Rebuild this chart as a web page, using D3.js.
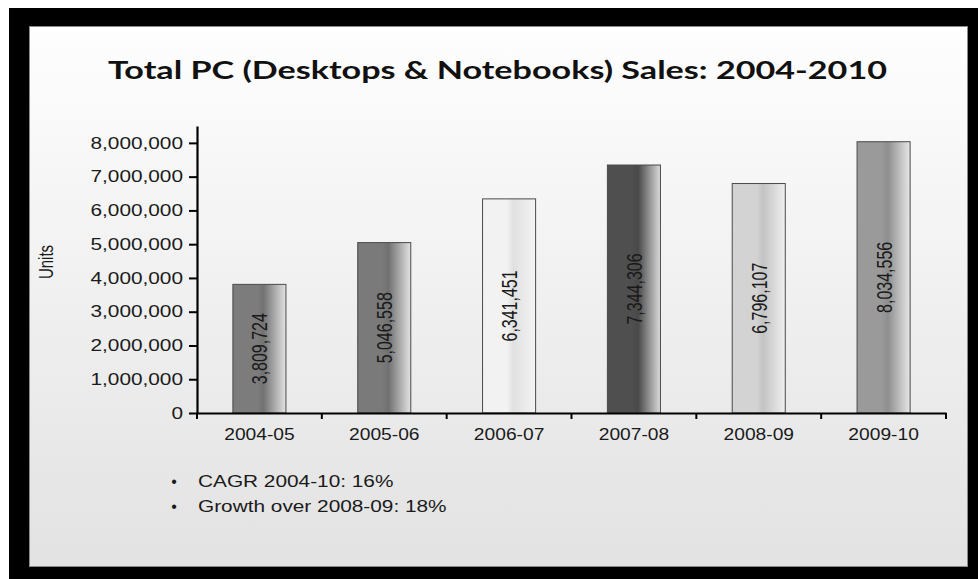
<!DOCTYPE html>
<html>
<head>
<meta charset="utf-8">
<script src="https://cdn.jsdelivr.net/npm/d3@7"></script>
<style>
  body { margin: 0; background: #fff; }
  svg { display: block; }
</style>
</head>
<body>
<svg id="chart"></svg>
<script>
const categories = ["2004-05", "2005-06", "2006-07", "2007-08", "2008-09", "2009-10"];
const units = [3809724, 5046558, 6341451, 7344306, 6796107, 8034556];
const yTicks = [0, 1000000, 2000000, 3000000, 4000000, 5000000, 6000000, 7000000, 8000000];
const notes = ["CAGR 2004-10: 16%", "Growth over 2008-09: 18%"];
const title = "Total PC (Desktops & Notebooks) Sales: 2004-2010";

// per-bar base tone (left part of each bar's gradient)
const barColors = ["#7c7c7c", "#7a7a7a", "#f2f2f2", "#4f4f4f", "#d3d3d3", "#9a9a9a"];

const width = 978;
const height = 579;
const sx = 1.3; // the source picture is stretched horizontally

const svg = d3.select("#chart").attr("width", width).attr("height", height);
const defs = svg.append("defs");

// stretch a text node horizontally by factor k
function stretch(sel, k) {
  sel.each(function () {
    const w = this.getComputedTextLength();
    d3.select(this).attr("textLength", w * k).attr("lengthAdjust", "spacingAndGlyphs");
  });
}

// frame + panel
svg.append("rect").attr("x", 9).attr("y", 8).attr("width", width - 9).attr("height", height - 8).attr("fill", "#000");

const bg = defs.append("linearGradient").attr("id", "bg").attr("x1", 0).attr("y1", 0).attr("x2", 0).attr("y2", 1);
bg.append("stop").attr("offset", 0).attr("stop-color", "#fefefe");
bg.append("stop").attr("offset", 1).attr("stop-color", "#e2e2e2");

svg.append("rect")
  .attr("x", 29.5).attr("y", 26.5)
  .attr("width", 938).attr("height", 540)
  .attr("fill", "url(#bg)")
  .attr("stroke", "#8a8a8a");

// title
svg.append("text")
  .attr("x", 497.5)
  .attr("y", 79)
  .attr("text-anchor", "middle")
  .attr("font-family", "Lato, 'Open Sans', sans-serif")
  .attr("font-weight", 700)
  .attr("font-size", "24px")
  .attr("fill", "#111")
  .attr("textLength", 779)
  .attr("lengthAdjust", "spacingAndGlyphs")
  .text(title);

// scales
const x = d3.scaleBand()
  .domain(categories)
  .range([197, 946])
  .paddingInner(0.575)
  .paddingOuter(0.2875);

const y = d3.scaleLinear()
  .domain([0, 8500000])
  .range([413, 126]);

// bar gradients
barColors.forEach((c, i) => {
  const base = d3.color(c);
  const g = defs.append("linearGradient").attr("id", "bar" + i)
    .attr("x1", 0).attr("y1", 0).attr("x2", 1).attr("y2", 0);
  g.append("stop").attr("offset", 0).attr("stop-color", base);
  g.append("stop").attr("offset", 0.46).attr("stop-color", base);
  g.append("stop").attr("offset", 0.58).attr("stop-color", base.darker(0.22));
  g.append("stop").attr("offset", 1).attr("stop-color", d3.interpolateRgb(base, "#f4f4f4")(0.85));
});

const bars = svg.append("g")
  .selectAll("g")
  .data(units)
  .join("g");

bars.append("rect")
  .attr("x", (d, i) => x(categories[i]))
  .attr("y", d => y(d))
  .attr("width", x.bandwidth())
  .attr("height", d => y(0) - y(d))
  .attr("fill", (d, i) => `url(#bar${i})`)
  .attr("stroke", "#4a4a4a")
  .attr("stroke-width", 1);

bars.append("text")
  .attr("transform", (d, i) => {
    const cx = x(categories[i]) + x.bandwidth() / 2;
    const cy = (y(d) + y(0)) / 2;
    return `translate(${cx},${cy}) scale(1.4,1) rotate(-90)`;
  })
  .attr("text-anchor", "middle")
  .attr("dominant-baseline", "central")
  .attr("font-family", "Arial, 'Liberation Sans', sans-serif")
  .attr("font-size", "16px")
  .attr("fill", "#1a1a1a")
  .text(d => d3.format(",")(d));

// y axis
const yAxis = svg.append("g")
  .attr("transform", "translate(197,0)")
  .call(d3.axisLeft(y).tickValues(yTicks).tickFormat(d3.format(",")).tickSize(8).tickPadding(6).tickSizeOuter(0));

yAxis.select(".domain").attr("stroke", "#000").attr("stroke-width", 2.2);
yAxis.selectAll(".tick line").attr("stroke", "#000").attr("stroke-width", 2);
yAxis.selectAll("text")
  .attr("font-family", "Arial, 'Liberation Sans', sans-serif")
  .attr("font-size", "16px")
  .attr("fill", "#1a1a1a")
  .call(stretch, sx);

// x axis
const xAxis = svg.append("g")
  .attr("transform", `translate(0,${y(0)})`)
  .call(d3.axisBottom(x).tickSize(0).tickSizeOuter(0));

xAxis.select(".domain").attr("stroke", "#000").attr("stroke-width", 2.2);
xAxis.selectAll("text")
  .attr("y", 27)
  .attr("dy", null)
  .attr("font-family", "Arial, 'Liberation Sans', sans-serif")
  .attr("font-size", "16px")
  .attr("fill", "#1a1a1a")
  .call(stretch, 1.2);

// category boundary ticks
xAxis.selectAll(".bound")
  .data(d3.range(categories.length + 1))
  .join("line")
  .attr("class", "bound")
  .attr("x1", i => x.range()[0] + i * x.step())
  .attr("x2", i => x.range()[0] + i * x.step())
  .attr("y1", 0)
  .attr("y2", 6)
  .attr("stroke", "#000")
  .attr("stroke-width", 2);

// y axis title
svg.append("text")
  .attr("transform", `translate(46,262) scale(${sx},1) rotate(-90)`)
  .attr("text-anchor", "middle")
  .attr("dominant-baseline", "central")
  .attr("font-family", "Arial, 'Liberation Sans', sans-serif")
  .attr("font-size", "15px")
  .attr("fill", "#1a1a1a")
  .text("Units");

// notes
const noteG = svg.append("g")
  .selectAll("g")
  .data(notes)
  .join("g")
  .attr("transform", (d, i) => `translate(0,${487 + i * 25})`);

noteG.append("text")
  .attr("x", 174)
  .attr("text-anchor", "middle")
  .attr("font-family", "Arial, 'Liberation Sans', sans-serif")
  .attr("font-size", "16px")
  .attr("fill", "#1a1a1a")
  .text("\u2022");

noteG.append("text")
  .attr("x", 198)
  .attr("font-family", "Arial, 'Liberation Sans', sans-serif")
  .attr("font-size", "16px")
  .attr("fill", "#1a1a1a")
  .text(d => d)
  .call(stretch, sx);
</script>
</body>
</html>
